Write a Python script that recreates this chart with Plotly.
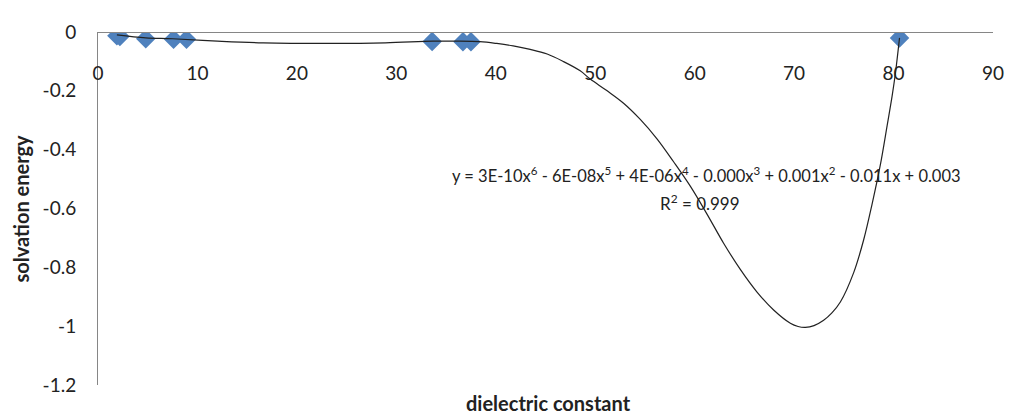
import plotly.graph_objects as go

# Measured points
dielectric = [1.9, 2.2, 4.8, 7.6, 8.9, 33.6, 36.7, 37.5, 80.6]
solvation = [-0.013, -0.015, -0.023, -0.025, -0.025, -0.032, -0.033, -0.033, -0.02]

# Polynomial trendline
trend_x = [1.9, 4.8, 7.5, 12.0, 16.6, 23.3, 28.9, 33.7, 36.0, 38.4, 40.1, 41.75,
           43.46, 45.17, 46.78, 48.49, 49.5, 51.2, 52.85, 54.53, 56.21, 57.88, 59.56,
           61.24, 62.91, 64.59, 66.27, 67.94, 69.62, 70.4, 71.13, 72.0, 72.97, 73.8,
           74.65, 75.99, 76.99, 77.84, 78.67, 79.35, 79.85, 80.18, 80.6]
trend_y = [-0.010, -0.020, -0.023, -0.031, -0.037, -0.039, -0.037, -0.031, -0.031,
           -0.033, -0.039, -0.047, -0.059, -0.075, -0.100, -0.132, -0.160, -0.200,
           -0.242, -0.297, -0.363, -0.441, -0.524, -0.619, -0.718, -0.807, -0.884,
           -0.945, -0.990, -1.001, -1.004, -0.998, -0.980, -0.955, -0.918, -0.818,
           -0.707, -0.585, -0.452, -0.319, -0.219, -0.142, -0.02]

x_ticks = [0, 10, 20, 30, 40, 50, 60, 70, 80, 90]
y_ticks = [0, -0.2, -0.4, -0.6, -0.8, -1.0, -1.2]
y_tick_text = ["0", "-0.2", "-0.4", "-0.6", "-0.8", "-1", "-1.2"]

equation = ("y = 3E-10x<sup>6</sup> - 6E-08x<sup>5</sup> + 4E-06x<sup>4</sup> - "
            "0.000x<sup>3</sup> + 0.001x<sup>2</sup> - 0.011x + 0.003")
r_squared = "R<sup>2</sup> = 0.999"

FONT = "Lato"
AXIS_COLOR = "#868686"

fig = go.Figure()
fig.add_trace(go.Scatter(
    x=dielectric, y=solvation, mode="markers",
    marker=dict(symbol="diamond", size=15, color="#4F81BD", line=dict(width=0)),
    showlegend=False, hoverinfo="x+y"))
fig.add_trace(go.Scatter(
    x=trend_x, y=trend_y, mode="lines",
    line=dict(color="#222222", width=1.2, shape="spline", smoothing=1.0),
    showlegend=False, hoverinfo="skip"))

fig.update_layout(
    width=1026, height=414,
    margin=dict(l=90, r=41, t=16, b=37),
    paper_bgcolor="white", plot_bgcolor="white",
    font=dict(family=FONT, size=19, color="#222222"),
    xaxis=dict(range=[0, 90], tickvals=x_ticks, showgrid=False, zeroline=False,
               showline=True, linecolor=AXIS_COLOR, linewidth=1,
               anchor="free", position=1, side="bottom", ticks="",
               ticklabelstandoff=24, tickfont=dict(size=19)),
    yaxis=dict(range=[-1.2, 0], tickvals=y_ticks, ticktext=y_tick_text,
               showgrid=False, zeroline=False, showline=True, linecolor=AXIS_COLOR,
               linewidth=1, ticks="", ticklabelstandoff=17, tickfont=dict(size=19)),
    annotations=[
        dict(text="<b>dielectric constant</b>", xref="paper", yref="paper", x=0.5, y=0,
             xshift=3, yshift=-18, xanchor="center", yanchor="middle", showarrow=False,
             font=dict(size=20)),
        dict(text="<b>solvation energy</b>", xref="paper", yref="paper", x=0, y=0.5,
             xshift=-78, xanchor="center", yanchor="middle", textangle=-90,
             showarrow=False, font=dict(size=20)),
        dict(text=equation, xref="x", yref="y", x=61.2, y=-0.485, xanchor="center",
             yanchor="middle", showarrow=False, font=dict(size=16.5)),
        dict(text=r_squared, xref="x", yref="y", x=60.5, y=-0.578, xanchor="center",
             yanchor="middle", showarrow=False, font=dict(size=17)),
    ],
)

fig.write_html("out.html")
